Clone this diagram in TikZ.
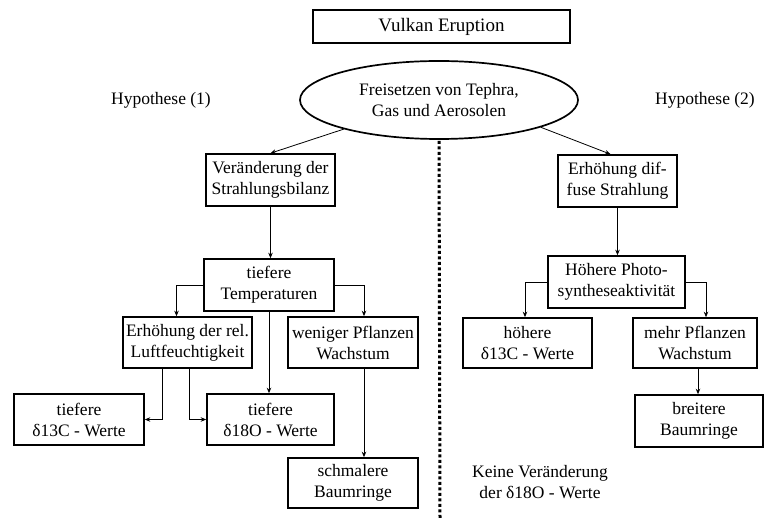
\documentclass[tikz,border=0pt]{standalone}
\usepackage{fontspec}
\setmainfont{Liberation Serif}
\usetikzlibrary{shapes.geometric,arrows.meta}
\begin{document}
\begin{tikzpicture}[x=1pt,y=-1pt,
  every node/.style={font=\fontsize{17.5}{21}\selectfont, align=center, inner sep=0pt},
  box/.style={draw, line width=1.6pt, rectangle},
  arr/.style={line width=0.8pt, -{Stealth[length=5.5pt,width=4.5pt]}},
  dotline/.style={line width=3pt, dash pattern=on 3pt off 2.5pt}]
\useasboundingbox (0,0) rectangle (771,518);
% nodes
\node[box, minimum width=257pt, minimum height=33pt, font=\fontsize{19}{22}\selectfont] (title) at (441.5,26.5) {Vulkan Eruption};
\node[draw, line width=1.7pt, ellipse, minimum width=278pt, minimum height=78pt] (ell) at (439,100) {Freisetzen von Tephra,\\Gas und Aerosolen};
\node (hyp1) at (161,100) {Hypothese (1)};
\node (hyp2) at (705,100) {Hypothese (2)};
% left
\node[box, minimum width=129pt, minimum height=52pt] (strahl) at (270.5,180) {Veränderung der\\Strahlungsbilanz};
\node[box, minimum width=130pt, minimum height=52pt] (temp) at (269,285) {tiefere\\Temperaturen};
\node[box, minimum width=129pt, minimum height=51pt] (feucht) at (187.5,342.5) {Erhöhung der rel.\\Luftfeuchtigkeit};
\node[box, minimum width=130pt, minimum height=51pt] (weniger) at (353,342.5) {weniger Pflanzen\\Wachstum};
\node[box, minimum width=130pt, minimum height=51pt] (d13) at (79,419.5) {tiefere\\δ13C - Werte};
\node[box, minimum width=127pt, minimum height=51pt] (d18) at (270.5,419.5) {tiefere\\δ18O - Werte};
\node[box, minimum width=130pt, minimum height=50pt] (schmal) at (353,483) {schmalere\\Baumringe};
% right
\node[box, minimum width=119pt, minimum height=52pt] (diffus) at (617.5,181) {Erhöhung dif-\\fuse Strahlung};
\node[box, minimum width=137pt, minimum height=52pt] (photo) at (616.5,282) {Höhere Photo-\\syntheseaktivität};
\node[box, minimum width=129pt, minimum height=50pt] (hoehere) at (527.5,343) {höhere\\δ13C - Werte};
\node[box, minimum width=124pt, minimum height=50pt] (mehr) at (695,343) {mehr Pflanzen\\Wachstum};
\node[box, minimum width=128pt, minimum height=52pt] (breit) at (699,421) {breitere\\Baumringe};
\node (keine) at (540,482) {Keine Veränderung\\der δ18O - Werte};
% divider
\coordinate (dotend) at (440,518);
\draw[dotline] ([yshift=-1pt]ell.south) -- (dotend);
% connectors left
\draw[arr] (ell.197) -- (strahl.north);
\draw[arr] (strahl) -- (strahl |- temp.north);
\draw[arr] (temp.west) -| ([xshift=-11pt]feucht.north);
\draw[arr] (temp.east) -| ([xshift=11pt]weniger.north);
\draw[arr] (temp.south) -- (temp.south |- d18.north);
\draw[arr] ([xshift=-25.5pt]feucht.south) |- (d13.east);
\draw[arr] ([xshift=1.5pt]feucht.south) |- (d18.west);
\draw[arr] ([xshift=11pt]weniger.south) -- ([xshift=11pt]schmal.north);
% connectors right
\draw[arr] (ell.345) -- ([xshift=-7pt]diffus.north);
\draw[arr] (diffus) -- (diffus |- photo.north);
\draw[arr] (photo.west) -| ([xshift=-2.5pt]hoehere.north);
\draw[arr] (photo.east) -| ([xshift=11pt]mehr.north);
\draw[arr] ([xshift=3pt]mehr.south) -- ([xshift=-1pt]breit.north);
\end{tikzpicture}
\end{document}
